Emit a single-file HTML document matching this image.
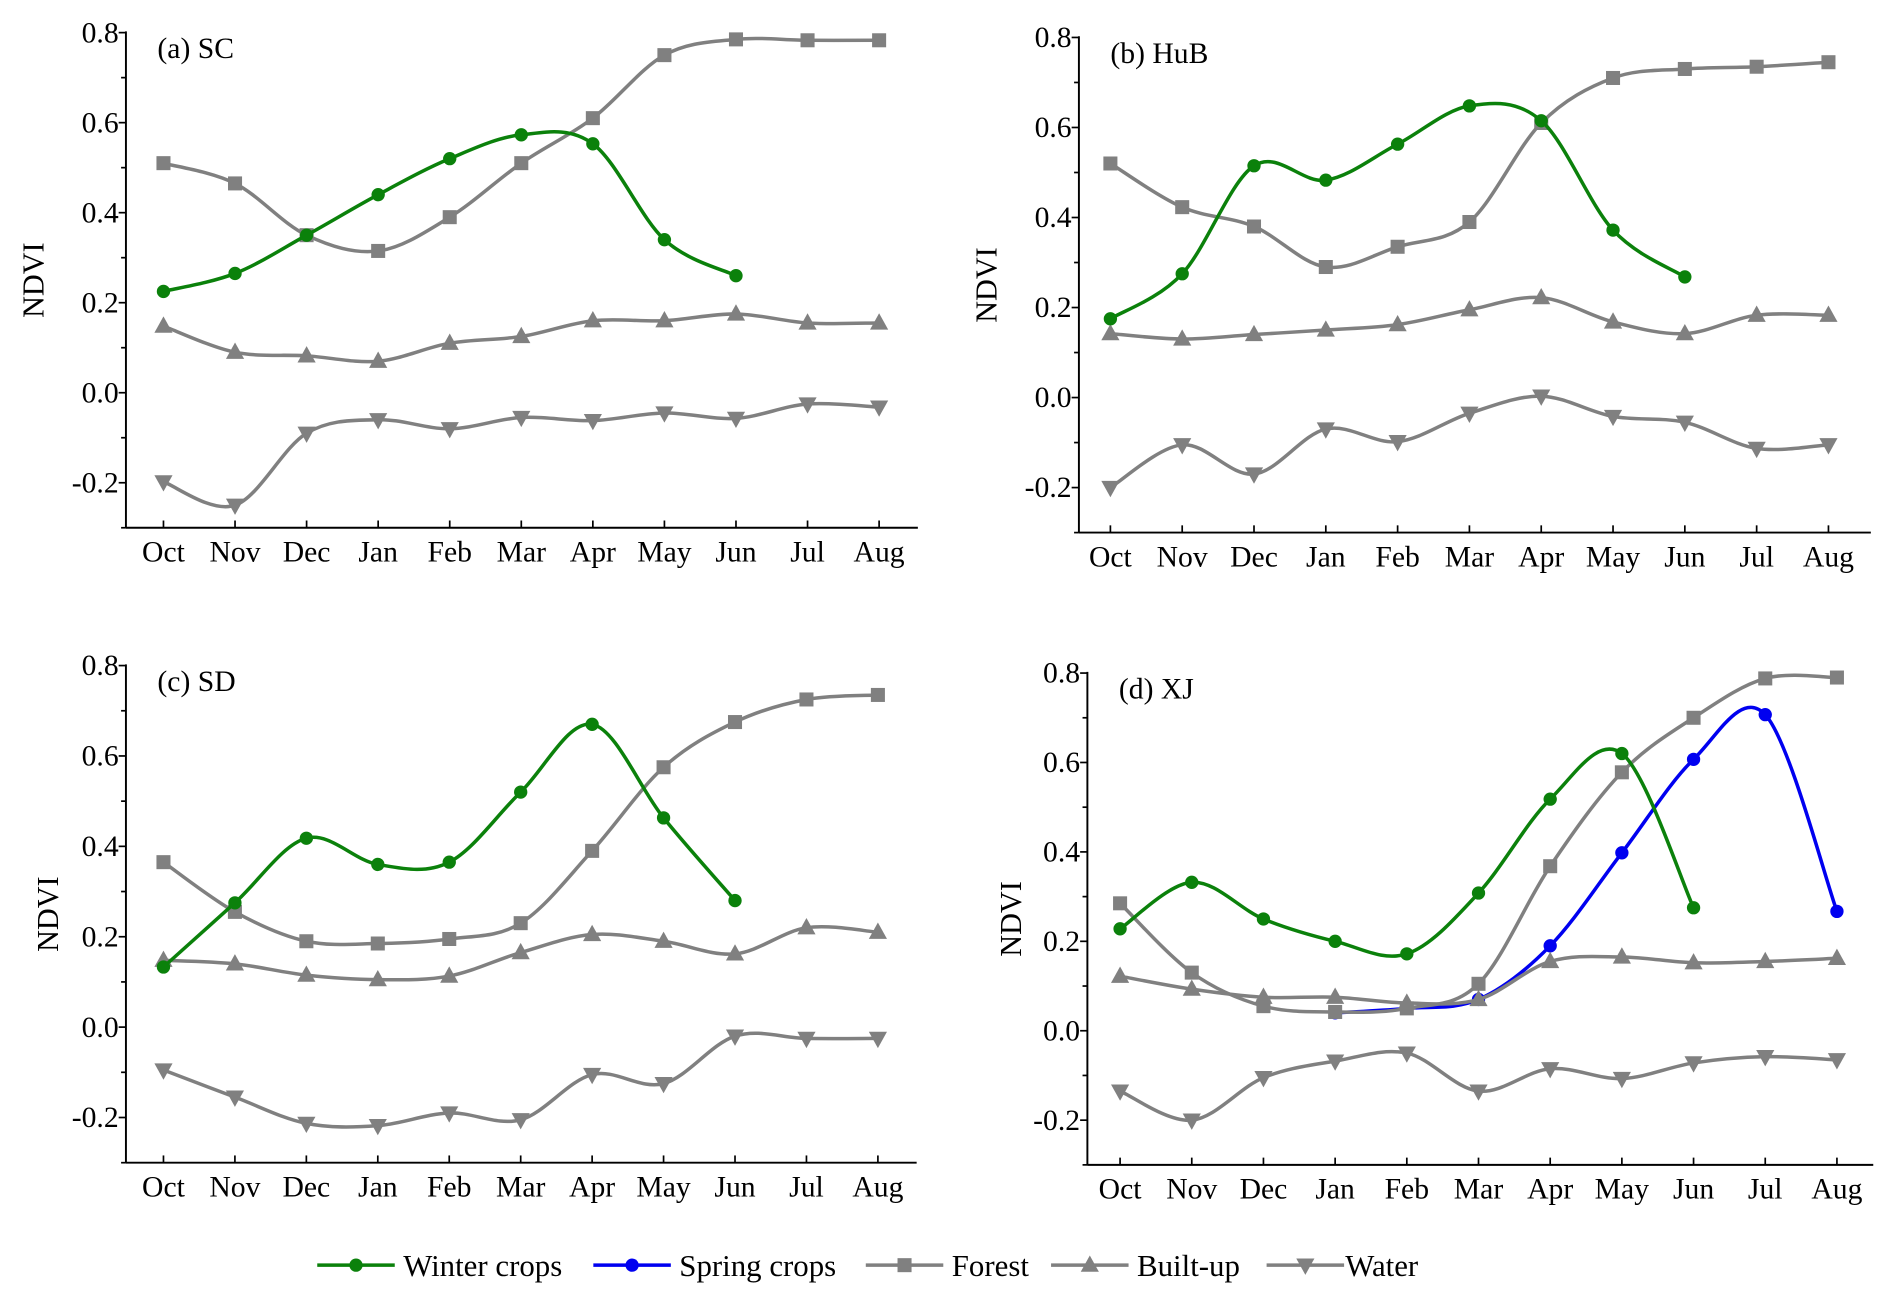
<!DOCTYPE html>
<html><head><meta charset="utf-8"><style>
html,body{margin:0;padding:0;background:#fff}
svg{display:block}
text{font-family:"Liberation Serif",serif;fill:#000}
</style></head><body>
<svg id="chart" width="1889" height="1299" viewBox="0 0 1560 1075" preserveAspectRatio="none" xmlns="http://www.w3.org/2000/svg"></svg>
<script>
const months = ["Oct","Nov","Dec","Jan","Feb","Mar","Apr","May","Jun","Jul","Aug"];
const yTicks = [-0.2, 0.0, 0.2, 0.4, 0.6, 0.8];
const yTickLabels = ["-0.2","0.0","0.2","0.4","0.6","0.8"];
// panel a SC
const scWinter = [0.225,0.265,0.35,0.44,0.52,0.573,0.553,0.34,0.26];
const scForest = [0.51,0.465,0.35,0.315,0.39,0.51,0.61,0.75,0.785,0.783,0.783];
const scBuilt = [0.148,0.09,0.082,0.07,0.11,0.125,0.16,0.16,0.175,0.155,0.155];
const scWater = [-0.198,-0.25,-0.09,-0.06,-0.08,-0.055,-0.062,-0.045,-0.057,-0.025,-0.032];
// panel b HuB
const hubWinter = [0.175,0.275,0.515,0.483,0.563,0.648,0.615,0.372,0.268];
const hubForest = [0.52,0.423,0.38,0.29,0.335,0.39,0.61,0.71,0.73,0.735,0.745];
const hubBuilt = [0.142,0.13,0.14,0.15,0.162,0.195,0.222,0.168,0.142,0.183,0.183];
const hubWater = [-0.2,-0.105,-0.17,-0.07,-0.098,-0.035,0.003,-0.042,-0.055,-0.113,-0.105];
// panel c SD
const sdWinter = [0.133,0.275,0.418,0.36,0.365,0.52,0.67,0.463,0.28];
const sdForest = [0.365,0.255,0.19,0.185,0.195,0.23,0.39,0.575,0.675,0.725,0.735];
const sdBuilt = [0.148,0.14,0.115,0.105,0.113,0.165,0.205,0.19,0.162,0.22,0.21];
const sdWater = [-0.095,-0.155,-0.213,-0.218,-0.19,-0.205,-0.105,-0.125,-0.02,-0.025,-0.025];
// panel d XJ
const xjWinter = [0.228,0.332,0.25,0.2,0.172,0.308,0.518,0.62,0.275];
const xjSpringStart = 3;
const xjSpring = [0.04,0.05,0.07,0.19,0.398,0.607,0.707,0.267];
const xjForest = [0.285,0.13,0.055,0.042,0.05,0.105,0.368,0.578,0.7,0.788,0.79];
const xjBuilt = [0.122,0.093,0.075,0.075,0.062,0.07,0.155,0.165,0.152,0.155,0.162];
const xjWater = [-0.135,-0.2,-0.105,-0.068,-0.05,-0.135,-0.085,-0.107,-0.072,-0.058,-0.065];

const NS="http://www.w3.org/2000/svg";
const svg=document.getElementById('chart');
function mk(tag,attrs,parent){const e=document.createElementNS(NS,tag);for(const k in attrs)e.setAttribute(k,attrs[k]);(parent||svg).appendChild(e);return e;}
const GREEN="#0b810b",GREY="#808080",BLUE="#0000f0";

function spline(pts){
  let d="M"+pts[0][0]+","+pts[0][1];
  for(let i=0;i<pts.length-1;i++){
    const p0=pts[i-1]||pts[i],p1=pts[i],p2=pts[i+1],p3=pts[i+2]||pts[i+1];
    const c1=[p1[0]+(p2[0]-p0[0])/6,p1[1]+(p2[1]-p0[1])/6];
    const c2=[p2[0]-(p3[0]-p1[0])/6,p2[1]-(p3[1]-p1[1])/6];
    d+=" C"+c1[0]+","+c1[1]+" "+c2[0]+","+c2[1]+" "+p2[0]+","+p2[1];
  }
  return d;
}
function marker(g,type,x,y,color){
  let e;
  if(type==="circle") e=mk('circle',{cx:x,cy:y,r:5.5,fill:color},g);
  else if(type==="square") e=mk('rect',{x:x-5.8,y:y-5.8,width:11.6,height:11.6,fill:color},g);
  else if(type==="up") e=mk('polygon',{points:`${x},${y-8} ${x-7.5},${y+5.5} ${x+7.5},${y+5.5}`,fill:color},g);
  else e=mk('polygon',{points:`${x},${y+8} ${x-7.5},${y-5.5} ${x+7.5},${y-5.5}`,fill:color},g);
  return e;
}

function panel(cfg){
  const g=mk('g',{});
  
  
  const X=i=>cfg.x0+i*cfg.dx;
  const Y=v=>cfg.y0-v*cfg.k;
  const bottom=Y(-0.3);
  const ya=mk('line',{x1:cfg.ax,y1:Y(0.8)-1,x2:cfg.ax,y2:bottom,stroke:"#000","stroke-width":1.6},g);
  
  
  const xa=mk('line',{x1:cfg.ax,y1:bottom,x2:cfg.right,y2:bottom,stroke:"#000","stroke-width":1.6},g);
  
  
  for(let v=-0.3;v<=0.801;v+=0.1){
    const major=Math.abs(Math.round(v*10)%2)===0;
    mk('line',{x1:cfg.ax-(major?6:4),y1:Y(v),x2:cfg.ax,y2:Y(v),stroke:"#000","stroke-width":1.4},g);
  }
  yTicks.forEach((v,i)=>{
    const t=mk('text',{x:cfg.ax-6,y:Y(v)+8,"text-anchor":"end","font-size":24.5},g);
    t.textContent=yTickLabels[i];
    
    
  });
  months.forEach((m,i)=>{
    mk('line',{x1:X(i),y1:bottom,x2:X(i),y2:bottom-6,stroke:"#000","stroke-width":1.4},g);
    const t=mk('text',{x:X(i),y:bottom+28,"text-anchor":"middle","font-size":24.5},g);
    t.textContent=m;
    
    
  });
  const yl=mk('text',{x:0,y:0,"text-anchor":"middle","font-size":25,transform:`translate(${cfg.ylx},${(Y(0.8)+bottom)/2}) rotate(-90)`},g);
  yl.textContent="NDVI";
  
  
  const tt=mk('text',{x:cfg.ax+26,y:Y(0.8)+21,"font-size":24.5},g);
  tt.textContent=cfg.title;
  
  
  cfg.series.forEach(s=>{
    const sg=mk('g',{},g);
    
    
    const start=s.start||0;
    const pts=s.data.map((v,i)=>[X(i+start),Y(v)]);
    mk('path',{d:spline(pts),fill:"none",stroke:s.color,"stroke-width":2.9},sg);
    pts.forEach(p=>{
      const m=marker(sg,s.marker,p[0],p[1],s.color);
      
      
    });
  });
}
function series(name,data,color,mkType,start){return {name:name,data:data,color:color,marker:mkType,start:start||0};}

panel({id:"sc",title:"(a) SC",ax:104,right:758,x0:135,dx:59.1,y0:325,k:372.5,ylx:36,
  series:[series('forest-line',scForest,GREY,'square'),series('built-up-line',scBuilt,GREY,'up'),series('water-line',scWater,GREY,'down'),series('winter-crops-line',scWinter,GREEN,'circle')]});
panel({id:"hub",title:"(b) HuB",ax:891,right:1545,x0:917,dx:59.3,y0:329,k:372.5,ylx:823,
  series:[series('forest-line',hubForest,GREY,'square'),series('built-up-line',hubBuilt,GREY,'up'),series('water-line',hubWater,GREY,'down'),series('winter-crops-line',hubWinter,GREEN,'circle')]});
panel({id:"sd",title:"(c) SD",ax:104,right:757,x0:135,dx:59.0,y0:850,k:374,ylx:48,
  series:[series('forest-line',sdForest,GREY,'square'),series('built-up-line',sdBuilt,GREY,'up'),series('water-line',sdWater,GREY,'down'),series('winter-crops-line',sdWinter,GREEN,'circle')]});
panel({id:"xj",title:"(d) XJ",ax:898,right:1547,x0:925,dx:59.2,y0:853,k:370,ylx:843,
  series:[series('spring-crops-line',xjSpring,BLUE,'circle',xjSpringStart),series('forest-line',xjForest,GREY,'square'),series('built-up-line',xjBuilt,GREY,'up'),series('water-line',xjWater,GREY,'down'),series('winter-crops-line',xjWinter,GREEN,'circle')]});

const legendNames=["Winter crops","Spring crops","Forest","Built-up","Water"];
const legendColors=[GREEN,BLUE,GREY,GREY,GREY];
const legendMarkers=["circle","circle","square","up","down"];
const legendX=[262,490,715,868,1046];
const lg=mk('g',{});


legendNames.forEach((n,i)=>{
  const eg=mk('g',{},lg);
  
  
  const x=legendX[i],y=1047;
  mk('line',{x1:x,y1:y,x2:x+64,y2:y,stroke:legendColors[i],"stroke-width":2.9},eg);
  marker(eg,legendMarkers[i],x+32,y,legendColors[i]);
  const t=mk('text',{x:x+(i===4?65:71),y:y+9,"font-size":25.5},eg);
  t.textContent=n;
});
</script>
</body></html>
